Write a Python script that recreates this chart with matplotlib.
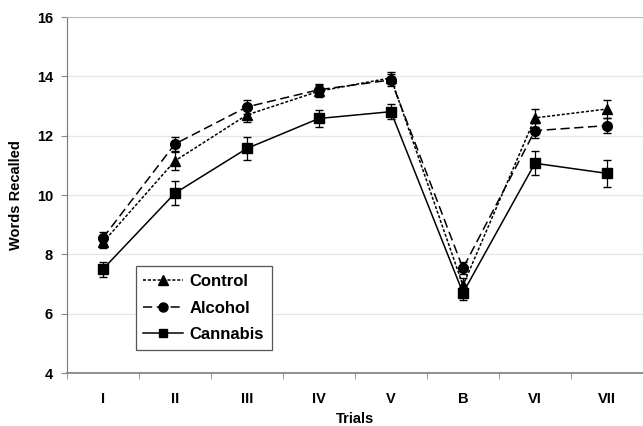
import matplotlib
matplotlib.use("Agg")
import matplotlib.pyplot as plt
from matplotlib.lines import Line2D
import numpy as np

trials = ["I", "II", "III", "IV", "V", "B", "VI", "VII"]

control = [8.4, 11.15, 12.7, 13.5, 13.95, 6.95, 12.6, 12.9]
control_err = [0.2, 0.3, 0.25, 0.2, 0.2, 0.25, 0.3, 0.3]
alcohol = [8.55, 11.72, 12.97, 13.55, 13.88, 7.53, 12.17, 12.34]
alcohol_err = [0.2, 0.25, 0.25, 0.2, 0.2, 0.2, 0.25, 0.25]
cannabis = [7.5, 10.06, 11.57, 12.58, 12.81, 6.7, 11.07, 10.73]
cannabis_err = [0.25, 0.4, 0.4, 0.3, 0.25, 0.25, 0.4, 0.45]

plt.rcParams['font.family'] = ['Liberation Sans', 'DejaVu Sans']

fig = plt.figure(figsize=(6.43, 4.26), dpi=100)
ax = fig.add_axes([0.104, 0.1244, 0.896, 0.8356])

x = np.arange(len(trials))

styles = [
    ('Control', control, control_err, '^', 7, (0, (2, 1.2))),
    ('Alcohol', alcohol, alcohol_err, 'o', 7, (0, (6, 3))),
    ('Cannabis', cannabis, cannabis_err, 's', 6.5, '-'),
]
handles = []
for name, vals, err, mk, ms, ls in styles:
    ax.errorbar(x, vals, yerr=err, color='black', marker=mk, markersize=ms,
                linestyle=ls, linewidth=1.1, capsize=3, elinewidth=0.9, zorder=3)
    handles.append(Line2D([], [], color='black', marker=mk, markersize=ms - 0.5,
                          linestyle=ls, linewidth=1.1, label=name))

ax.set_xlim(-0.5, len(trials) - 0.5)
ax.set_ylim(4, 16)
ax.set_yticks(np.arange(4, 17, 2))
ax.set_yticklabels([str(v) for v in range(4, 17, 2)], fontweight='bold', fontsize=10.5)
ax.set_xticks(x)
ax.set_xticklabels(trials, fontweight='bold', fontsize=10.5)
ax.set_xticks(np.arange(-0.5, len(trials), 1), minor=True)
ax.tick_params(axis='x', which='major', length=0, pad=14)
ax.tick_params(axis='x', which='minor', length=4, color='#888888')
ax.tick_params(axis='y', length=4, color='#888888', pad=6)

ax.yaxis.grid(True, color='#e6e6e6', linewidth=0.9)
ax.set_axisbelow(True)

ax.spines['left'].set_color('#777777')
ax.spines['bottom'].set_color('#888888')
ax.spines['bottom'].set_linewidth(1.3)
ax.spines['top'].set_color('#bbbbbb')
ax.spines['right'].set_color('#eeeeee')

ax.set_xlabel('Trials', fontweight='bold', fontsize=10.5, labelpad=4)
ax.set_ylabel('Words Recalled', fontweight='bold', fontsize=10.5, labelpad=10)

leg = ax.legend(handles=handles, loc='lower left', bbox_to_anchor=(0.105, 0.042),
                prop={'weight': 'bold', 'size': 12}, fancybox=False,
                edgecolor='#555555', handlelength=2.4, handletextpad=0.4,
                borderpad=0.45, labelspacing=0.7, framealpha=1)
leg.get_frame().set_linewidth(0.9)

fig.savefig('out.png', dpi=100)
